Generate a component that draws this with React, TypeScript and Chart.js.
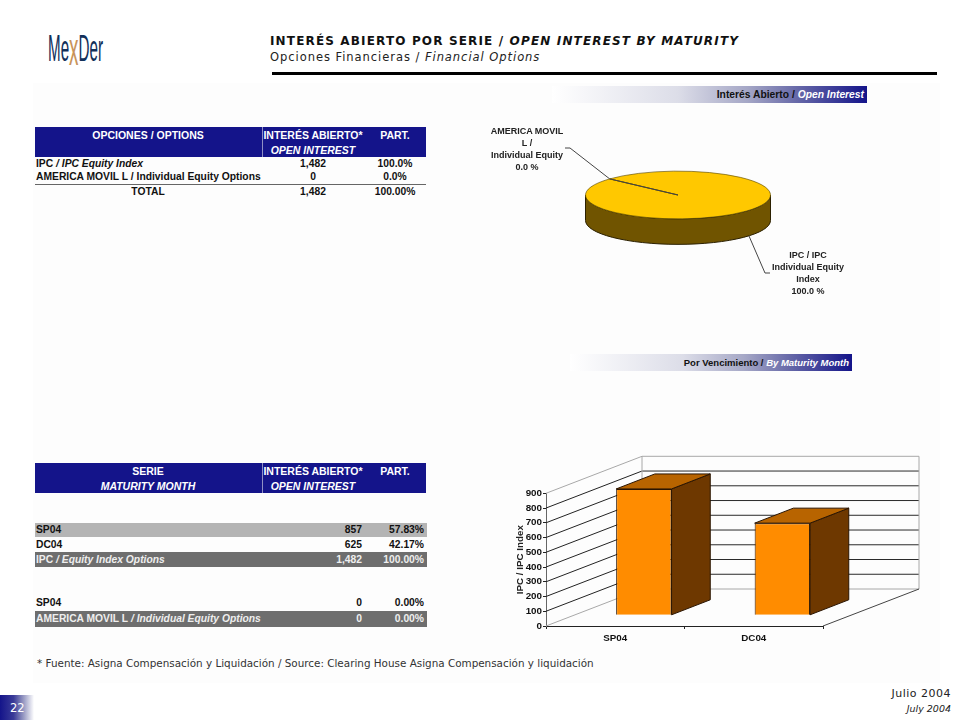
import React, { useEffect, useRef } from "react";
import { Chart, registerables } from "chart.js";

Chart.register(...registerables);

const pieLabels = ["AMERICA MOVIL L / Individual Equity", "IPC / IPC Individual Equity Index"];
const pieValues = [0, 1482];
const maturities = ["SP04", "DC04"];
const maturityValues = [857, 625];
const table1Rows = [
  ["IPC", "IPC Equity Index", "1,482", "100.0%"],
  ["AMERICA MOVIL L", "Individual Equity Options", "0", "0.0%"],
];
const table1Total = ["TOTAL", "1,482", "100.00%"];

const NAVY = "#14148A";
const SANS = "'Liberation Sans', Arial, sans-serif";
const VERDANA = "'DejaVu Sans', Verdana, sans-serif";

// 3D projection, in pixels
const WALL_DX = 96;
const WALL_DY = -37;
const BAR_DX = 28.6;
const BAR_DY = -10.7;
const DEPTH_DX = 38.7;
const DEPTH_DY = -15;

function line(ctx: any, x1: number, y1: number, x2: number, y2: number, color: string, w = 1) {
  ctx.beginPath();
  ctx.moveTo(x1, y1);
  ctx.lineTo(x2, y2);
  ctx.strokeStyle = color;
  ctx.lineWidth = w;
  ctx.stroke();
}

function poly(ctx: any, pts: number[][], fill: string, stroke: string) {
  ctx.beginPath();
  pts.forEach((p, i) => (i ? ctx.lineTo(p[0], p[1]) : ctx.moveTo(p[0], p[1])));
  ctx.closePath();
  ctx.fillStyle = fill;
  ctx.fill();
  ctx.strokeStyle = stroke;
  ctx.lineWidth = 1;
  ctx.stroke();
}

const bar3dPlugin = {
  id: "bar3d",
  beforeDatasetsDraw(chart: any) {
    const { ctx, chartArea, scales } = chart;
    const { left, right } = chartArea;
    const y = scales.y;
    ctx.save();
    y.ticks.forEach((t: any) => {
      const py = y.getPixelForValue(t.value);
      const edge = t.value === 0 || t.value === 900;
      const c = edge ? "#a8a8a8" : "#222";
      line(ctx, left, py, left + WALL_DX, py + WALL_DY, c);
      line(ctx, left + WALL_DX, py + WALL_DY, right + WALL_DX, py + WALL_DY, edge ? "#a8a8a8" : "#2a2a2a");
    });
    const top = y.getPixelForValue(900) + WALL_DY;
    const bot = y.getPixelForValue(0) + WALL_DY;
    line(ctx, left + WALL_DX, top, left + WALL_DX, bot, "#a8a8a8");
    line(ctx, right + WALL_DX, top, right + WALL_DX, bot, "#a8a8a8");
    line(ctx, right, y.getPixelForValue(0), right + WALL_DX, bot, "#444");
    ctx.restore();
  },
  beforeDatasetDraw(chart: any, args: any) {
    const { ctx } = chart;
    const els = chart.getDatasetMeta(args.index).data;
    ctx.save();
    els.forEach((el: any) => {
      const l = el.x - el.width / 2 + BAR_DX;
      const r = el.x + el.width / 2 + BAR_DX;
      const t = el.y + BAR_DY;
      const b = el.base + BAR_DY;
      poly(ctx, [[r, t], [r + DEPTH_DX, t + DEPTH_DY], [r + DEPTH_DX, b + DEPTH_DY], [r, b]], "#6E3800", "#2a1400");
      poly(ctx, [[l, t], [l + DEPTH_DX, t + DEPTH_DY], [r + DEPTH_DX, t + DEPTH_DY], [r, t]], "#B86400", "#2a1400");
    });
    ctx.translate(BAR_DX, BAR_DY);
  },
  afterDatasetDraw(chart: any) {
    chart.ctx.restore();
  },
};

const SQUASH = 24 / 93;
const PIE_DEPTH = 25.5;

const pie3dPlugin = {
  id: "pie3d",
  beforeDatasetsDraw(chart: any) {
    const { ctx } = chart;
    const el = chart.getDatasetMeta(0).data[1];
    const { x, y, outerRadius: R } = el;
    const ry = R * SQUASH;
    ctx.save();
    ctx.beginPath();
    ctx.ellipse(x, y, R, ry, 0, 0, Math.PI);
    ctx.ellipse(x, y + PIE_DEPTH, R, ry, 0, Math.PI, 0, true);
    ctx.closePath();
    ctx.fillStyle = "#705400";
    ctx.fill();
    ctx.strokeStyle = "#2b2000";
    ctx.lineWidth = 1;
    ctx.stroke();
    ctx.translate(x, y);
    ctx.scale(1, SQUASH);
    ctx.translate(-x, -y);
  },
  afterDatasetsDraw(chart: any) {
    const { ctx } = chart;
    ctx.restore();
    const zero = chart.getDatasetMeta(0).data[0];
    const main = chart.getDatasetMeta(0).data[1];
    const { x, y, outerRadius: R } = main;
    const ry = R * SQUASH;
    const ex = x + Math.cos(zero.startAngle) * R;
    const ey = y + Math.sin(zero.startAngle) * ry;
    ctx.save();
    ctx.beginPath();
    ctx.moveTo(x, y);
    ctx.lineTo(ex, ey);
    ctx.lineTo(90, 78);
    ctx.lineTo(85, 78);
    ctx.moveTo(269, 166);
    ctx.lineTo(285, 203);
    ctx.lineTo(290, 203);
    ctx.strokeStyle = "#444";
    ctx.lineWidth = 1;
    ctx.stroke();
    ctx.restore();
  },
};

function T({ x, y, w, align = "left", color = "#111", size = 10.3, font = SANS, bold = true, italic = false, spacing, children }: any) {
  const style: any = {
    position: "absolute",
    top: y,
    lineHeight: "14px",
    height: 14,
    marginTop: -7,
    whiteSpace: "nowrap",
    fontFamily: font,
    fontSize: size,
    fontWeight: bold ? 700 : 400,
    fontStyle: italic ? "italic" : "normal",
    color,
    letterSpacing: spacing,
    textAlign: align,
  };
  if (align === "right") {
    style.right = 960 - x;
  } else if (align === "center") {
    style.left = x - (w || 200) / 2;
    style.width = w || 200;
  } else {
    style.left = x;
  }
  return <div style={style}>{children}</div>;
}

function Box({ x, y, w, h, bg }: any) {
  return <div style={{ position: "absolute", left: x, top: y, width: w, height: h, background: bg }} />;
}

function Row({ y, name, it, v, p, color = "#111" }: any) {
  return (
    <>
      <T x={36} y={y} color={color}>
        {name}
        {it ? <i> / {it}</i> : null}
      </T>
      <T x={362} y={y} align="right" color={color}>{v}</T>
      <T x={424} y={y} align="right" color={color}>{p}</T>
    </>
  );
}

function HeaderBar({ y, a, b }: any) {
  return (
    <>
      <Box x={35} y={y} w={391} h={30} bg={NAVY} />
      <Box x={262} y={y} w={1} h={30} bg="#8f8fc4" />
      <T x={148} y={y + 7.5} align="center" color="#fff" size={10.5}>{a}</T>
      <T x={148} y={y + 22.5} align="center" color="#fff" size={10.5} italic>{b}</T>
      <T x={313} y={y + 7.5} align="center" color="#fff" size={10.5}>INTERÉS ABIERTO*</T>
      <T x={313} y={y + 22.5} align="center" color="#fff" size={10.5} italic>OPEN INTEREST</T>
      <T x={395} y={y + 7.5} align="center" color="#fff" size={10.5}>PART.</T>
    </>
  );
}

function Band({ x, y, w, a, b, size = 9.5 }: any) {
  return (
    <>
      <Box
        x={x}
        y={y}
        w={w}
        h={17}
        bg={`linear-gradient(to right, #ffffff 0%, #dcdde8 40%, #a5a7c6 62%, #6668a8 78%, ${NAVY} 100%)`}
      />
      <T x={x + w - 3} y={y + 8.5} align="right" size={size} color="#111">
        {a} / <i style={{ color: "#fff" }}>{b}</i>
      </T>
    </>
  );
}

function Multi({ x, y, lines }: any) {
  return (
    <>
      {lines.map((l: string, i: number) => (
        <T key={i} x={x} y={y + i * 11.9} align="center" size={9} w={120} color="#222">{l}</T>
      ))}
    </>
  );
}

export default function App() {
  const pieRef = useRef<HTMLCanvasElement>(null);
  const barRef = useRef<HTMLCanvasElement>(null);

  useEffect(() => {
    const font = { family: "'Liberation Sans', Arial, sans-serif", size: 9.8, weight: "bold" as const };
    const pie = new Chart(pieRef.current!, {
      type: "pie",
      data: {
        labels: pieLabels,
        datasets: [
          {
            data: pieValues,
            backgroundColor: ["#FFC800", "#FFC800"],
            borderColor: "#5a4700",
            borderWidth: 1,
          },
        ],
      },
      options: {
        animation: false,
        responsive: false,
        rotation: -47.6,
        layout: { padding: { left: 105, right: 169, top: 32, bottom: 22 } },
        plugins: { legend: { display: false }, tooltip: { enabled: false } },
      },
      plugins: [pie3dPlugin],
    } as any);

    const bar = new Chart(barRef.current!, {
      type: "bar",
      data: {
        labels: maturities,
        datasets: [
          {
            data: maturityValues,
            backgroundColor: "#FF8C00",
            borderColor: "#2a1400",
            borderWidth: 1,
            categoryPercentage: 1,
            barPercentage: 0.4,
            clip: false,
          },
        ],
      },
      options: {
        animation: false,
        responsive: false,
        layout: { padding: { left: 0, right: 107, top: 53.3, bottom: 0 } },
        plugins: { legend: { display: false }, tooltip: { enabled: false } },
        scales: {
          x: {
            afterFit: (s: any) => { s.height = 24; },
            border: { color: "#222", width: 1 },
            grid: { drawOnChartArea: false, tickLength: 3, color: "#222", tickColor: "#222" },
            ticks: { color: "#111", font, padding: 3, maxRotation: 0 },
          },
          y: {
            min: 0,
            max: 900,
            afterFit: (s: any) => { s.width = 46; },
            border: { color: "#666", width: 1 },
            grid: { drawOnChartArea: false, tickLength: 3, tickColor: "#222" },
            ticks: { stepSize: 100, color: "#111", font, padding: 1, autoSkip: false },
            title: { display: true, text: "IPC / IPC Index", color: "#222", font, padding: { top: 14, bottom: 0 } },
          },
        },
      },
      plugins: [bar3dPlugin],
    } as any);

    return () => {
      pie.destroy();
      bar.destroy();
    };
  }, []);

  const pct = (v: number) => ((v / pieValues.reduce((a, b) => a + b, 0)) * 100).toFixed(1) + " %";

  return (
    <div style={{ position: "absolute", left: 0, top: 0, width: 960, height: 720, overflow: "hidden", background: "#fff" }}>
      <Box x={33} y={83} w={907} h={600} bg="#FDFDFD" />

      {/* Logo */}
      <div
        style={{
          position: "absolute",
          left: 48,
          top: 24,
          fontFamily: SANS,
          fontSize: 37,
          lineHeight: "42px",
          color: "#12305a",
          transform: "scaleX(0.41)",
          transformOrigin: "left top",
          whiteSpace: "nowrap",
        }}
      >
        Me<span style={{ color: "#c8935a", fontSize: 46, position: "relative", top: 4 }}>x</span>Der
      </div>

      {/* Title */}
      <T x={270} y={41} font={VERDANA} size={12} spacing="1.15px" color="#111">
        INTERÉS ABIERTO POR SERIE / <i>OPEN INTEREST BY MATURITY</i>
      </T>
      <T x={270} y={57} font={VERDANA} size={11.5} bold={false} spacing="0.95px" color="#222">
        Opciones Financieras / <i>Financial Options</i>
      </T>
      <Box x={272} y={72} w={665} h={3} bg="#000" />

      <Band x={552} y={86} w={315} a="Interés Abierto" b="Open Interest" size={10.3} />
      <Band x={570} y={354} w={282} a="Por Vencimiento" b="By Maturity Month" />

      {/* Table 1 */}
      <HeaderBar y={127} a="OPCIONES / OPTIONS" b="" />
      <T x={36} y={164}>{table1Rows[0][0]}<i> / {table1Rows[0][1]}</i></T>
      <T x={36} y={177}>{table1Rows[1][0]} / {table1Rows[1][1]}</T>
      <T x={313} y={164} align="center">{table1Rows[0][2]}</T>
      <T x={313} y={177} align="center">{table1Rows[1][2]}</T>
      <T x={395} y={164} align="center">{table1Rows[0][3]}</T>
      <T x={395} y={177} align="center">{table1Rows[1][3]}</T>
      <Box x={35} y={184} w={391} h={1} bg="#666" />
      <T x={148} y={192} align="center">{table1Total[0]}</T>
      <T x={313} y={192} align="center">{table1Total[1]}</T>
      <T x={395} y={192} align="center">{table1Total[2]}</T>

      {/* Table 2 */}
      <HeaderBar y={463} a="SERIE" b="MATURITY MONTH" />
      <Box x={35} y={523} w={392} h={14} bg="#B4B4B4" />
      <Box x={35} y={552} w={392} h={15} bg="#6E6E6E" />
      <Box x={35} y={611} w={392} h={16} bg="#6E6E6E" />
      <Row y={530} name={maturities[0]} v={String(maturityValues[0])} p="57.83%" />
      <Row y={544.5} name={maturities[1]} v={String(maturityValues[1])} p="42.17%" />
      <Row y={559.5} name="IPC" it="Equity Index Options" v="1,482" p="100.00%" color="#eee" />
      <Row y={603} name={maturities[0]} v="0" p="0.00%" />
      <Row y={619} name="AMERICA MOVIL L" it="Individual Equity Options" v="0" p="0.00%" color="#eee" />

      {/* Footnote */}
      <T x={37} y={663} font={VERDANA} size={10.4} bold={false} color="#333">
        * Fuente: Asigna Compensación y Liquidación / Source: Clearing House Asigna Compensación y liquidación
      </T>
      <T x={951} y={694} align="right" font={VERDANA} size={11} bold={false} spacing="0.5px" color="#222">Julio 2004</T>
      <T x={951} y={709} align="right" font={VERDANA} size={9.5} bold={false} italic color="#222">July 2004</T>

      {/* Page number */}
      <Box x={0} y={695} w={34} h={25} bg={`linear-gradient(to right, ${NAVY} 0%, #3a3b98 40%, #9a9cc4 70%, #ffffff 100%)`} />
      <T x={10} y={708} font={VERDANA} size={11.5} bold={false} color="#fff">22</T>

      {/* Charts */}
      <canvas ref={pieRef} width={460} height={240} style={{ position: "absolute", left: 480, top: 70, width: 460, height: 240 }} />
      <canvas ref={barRef} width={430} height={210} style={{ position: "absolute", left: 500, top: 440, width: 430, height: 210 }} />

      {/* Pie labels */}
      <Multi x={527} y={131} lines={["AMERICA MOVIL", "L /", "Individual Equity", pct(pieValues[0])]} />
      <Multi x={808} y={255} lines={["IPC / IPC", "Individual Equity", "Index", pct(pieValues[1])]} />
    </div>
  );
}
